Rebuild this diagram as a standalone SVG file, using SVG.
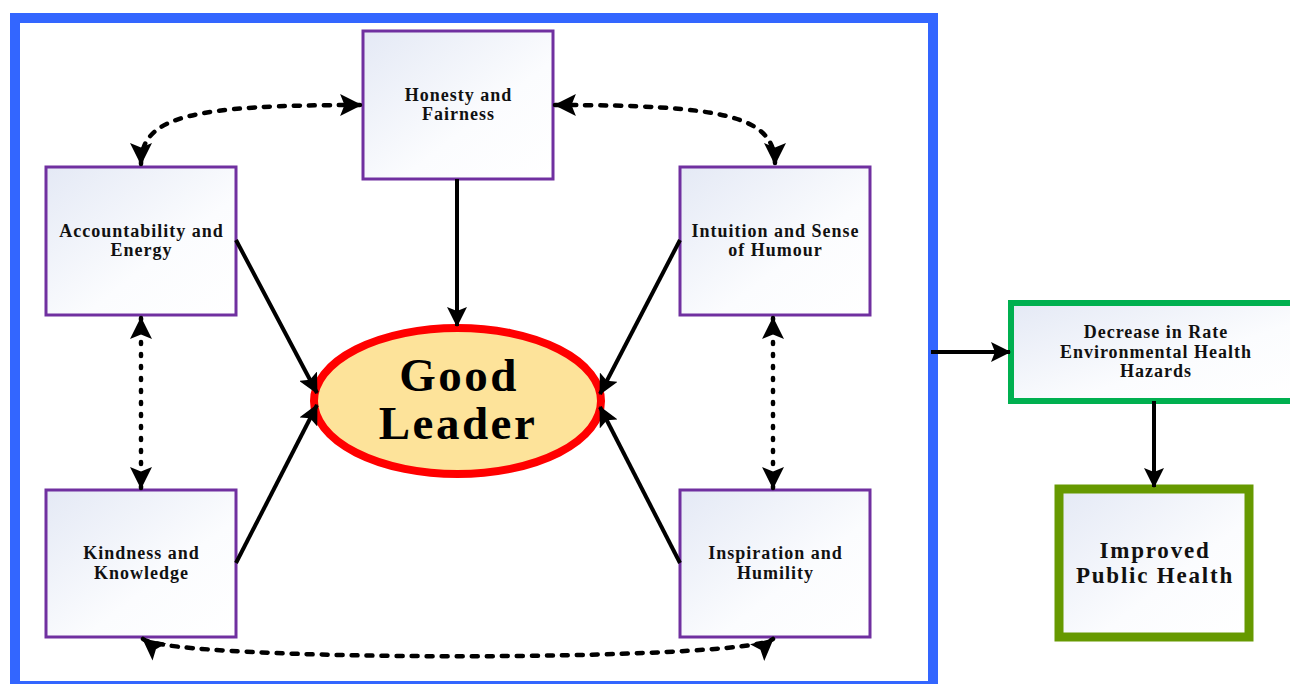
<svg xmlns="http://www.w3.org/2000/svg" width="1290" height="684" viewBox="0 0 1290 684">
  <style>
    .box { fill: url(#boxFill); stroke: #7030A0; stroke-width: 3; }
    .lbl { font-family: "Liberation Serif", "Times New Roman", serif; font-weight: bold; font-size: 18px; letter-spacing: 1px; fill: #111; text-anchor: middle; }
    .big { font-family: "Liberation Serif", "Times New Roman", serif; font-weight: bold; font-size: 47px; letter-spacing: 2.5px; fill: #000; text-anchor: middle; }
    .out { font-family: "Liberation Serif", "Times New Roman", serif; font-weight: bold; font-size: 23px; letter-spacing: 1.8px; fill: #111; text-anchor: middle; }
    .solid { fill: none; stroke: #000; stroke-width: 4; }
    .dash { fill: none; stroke: #000; stroke-width: 4.5; stroke-linecap: round; stroke-dasharray: 6 9; }
    .dot { fill: none; stroke: #000; stroke-width: 4.5; stroke-linecap: round; stroke-dasharray: 2 10; }
  </style>
  <defs>
    <linearGradient id="boxFill" x1="0" y1="0" x2="1" y2="1">
      <stop offset="0" stop-color="#E4E9F5"/>
      <stop offset="0.6" stop-color="#FBFCFE"/>
      <stop offset="1" stop-color="#FFFFFF"/>
    </linearGradient>
    <marker id="head" markerUnits="userSpaceOnUse" viewBox="0 0 20 20" refX="19" refY="10" markerWidth="22" markerHeight="22" orient="auto-start-reverse">
      <path d="M0,0 L20,10 L0,20 L4,10 z" fill="#000"/>
    </marker>
    <marker id="headS" markerUnits="userSpaceOnUse" viewBox="0 0 20 20" refX="19" refY="10" markerWidth="20" markerHeight="20" orient="auto">
      <path d="M0,0 L20,10 L0,20 L4,10 z" fill="#000"/>
    </marker>
  </defs>

  <!-- outer frame of the leadership qualities -->
  <rect x="15" y="18" width="918" height="668" fill="#FFFFFF" stroke="#3366FF" stroke-width="10"/>

  <g id="honesty">
    <rect class="box" x="363" y="31" width="190" height="148"/>
    <text class="lbl" x="458.5" y="101">Honesty and</text>
    <text class="lbl" x="458.5" y="120">Fairness</text>
  </g>

  <g id="accountability">
    <rect class="box" x="46" y="167" width="190" height="148"/>
    <text class="lbl" x="141.5" y="237">Accountability and</text>
    <text class="lbl" x="141.5" y="256">Energy</text>
  </g>

  <g id="intuition">
    <rect class="box" x="680" y="167" width="190" height="148"/>
    <text class="lbl" x="775.5" y="237">Intuition and Sense</text>
    <text class="lbl" x="775.5" y="256">of Humour</text>
  </g>

  <g id="kindness">
    <rect class="box" x="46" y="490" width="190" height="147"/>
    <text class="lbl" x="141.5" y="559">Kindness and</text>
    <text class="lbl" x="141.5" y="579">Knowledge</text>
  </g>

  <g id="inspiration">
    <rect class="box" x="680" y="490" width="190" height="147"/>
    <text class="lbl" x="775.5" y="559">Inspiration and</text>
    <text class="lbl" x="775.5" y="579">Humility</text>
  </g>

  <g id="good-leader">
    <ellipse cx="457.5" cy="401" rx="143.5" ry="73" fill="#FDE39A" stroke="#FF0000" stroke-width="8"/>
    <text class="big" x="459" y="391">Good</text>
    <text class="big" x="458" y="439">Leader</text>
  </g>

  <g id="decrease">
    <rect x="1011" y="303" width="284" height="98" fill="url(#boxFill)" stroke="#00B050" stroke-width="6"/>
    <text class="lbl" x="1156" y="338">Decrease in Rate</text>
    <text class="lbl" x="1156" y="358">Environmental Health</text>
    <text class="lbl" x="1156" y="377">Hazards</text>
  </g>

  <g id="improved">
    <rect x="1059" y="489" width="190" height="148" fill="url(#boxFill)" stroke="#669900" stroke-width="9"/>
    <text class="out" x="1155" y="558">Improved</text>
    <text class="out" x="1155" y="583">Public Health</text>
  </g>

  <g id="connectors">
    <!-- qualities feeding the leader -->
    <line class="solid" x1="457" y1="179" x2="457" y2="326" marker-end="url(#headS)"/>
    <line class="solid" x1="236" y1="240" x2="317" y2="393" marker-end="url(#headS)"/>
    <line class="solid" x1="236" y1="563" x2="317" y2="405" marker-end="url(#headS)"/>
    <line class="solid" x1="680" y1="240" x2="600" y2="394" marker-end="url(#headS)"/>
    <line class="solid" x1="680" y1="563" x2="600" y2="407" marker-end="url(#headS)"/>

    <!-- links between qualities -->
    <path class="dash" d="M141,164 C141,116 192,105 361,105" marker-start="url(#head)" marker-end="url(#head)"/>
    <path class="dash" d="M555,105 C724,105 775,116 775,164" marker-start="url(#head)" marker-end="url(#head)"/>
    <path class="dot" d="M141,318 L141,488" marker-start="url(#head)" marker-end="url(#head)"/>
    <path class="dot" d="M773,318 L773,488" marker-start="url(#head)" marker-end="url(#head)"/>
    <path class="dash" d="M143,639 C172,662 746,662 773,639" marker-start="url(#head)" marker-end="url(#head)"/>

    <!-- outcomes -->
    <line class="solid" x1="931" y1="352" x2="1010" y2="352" marker-end="url(#headS)"/>
    <line class="solid" x1="1154" y1="401" x2="1154" y2="487" marker-end="url(#headS)"/>
  </g>
</svg>
